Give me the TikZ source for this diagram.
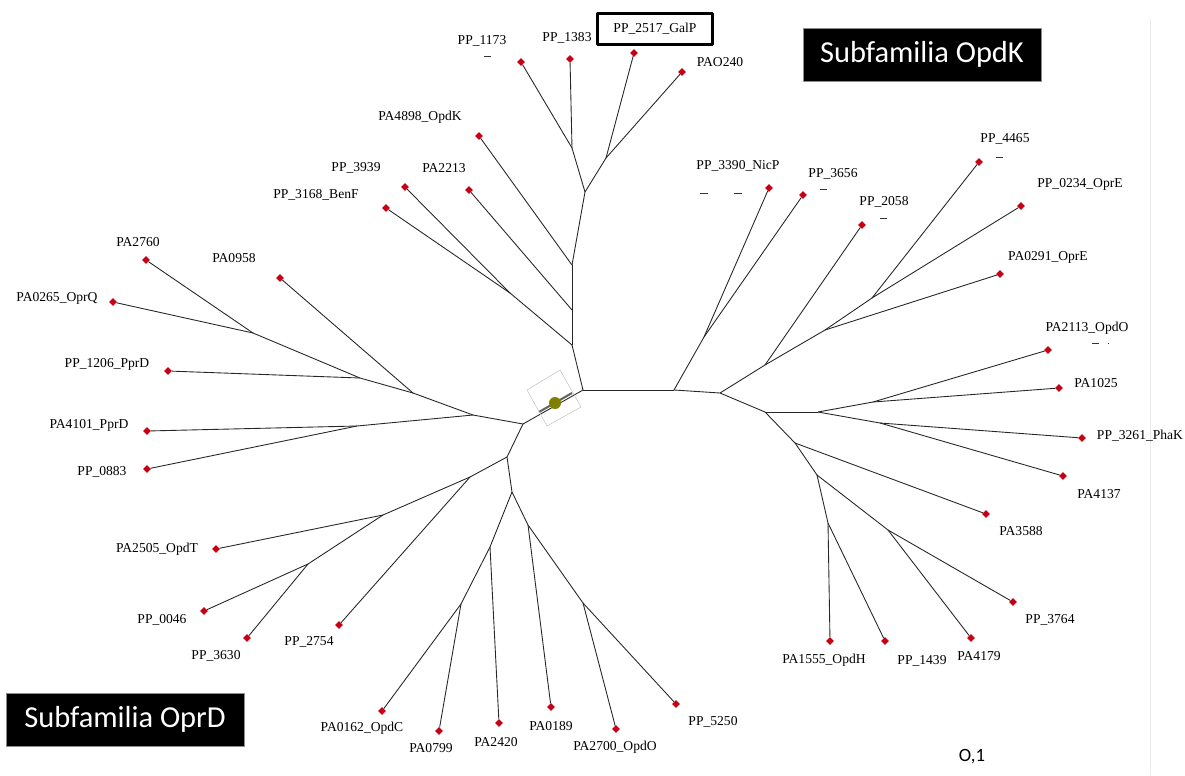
\documentclass[tikz,border=0pt]{standalone}
\usepackage{fontspec}
\setmainfont{Liberation Serif}
\newfontfamily\boxfont{Carlito}
\usetikzlibrary{shapes.geometric}

\definecolor{tipred}{RGB}{200,0,20}
\definecolor{rootgreen}{RGB}{128,128,0}

\begin{document}
\begin{tikzpicture}[x=0.03cm,y=-0.03cm,
  every path/.style={line join=round},
  branch/.style={draw=black!85,line width=0.75pt},
  tip/.style={diamond,fill=tipred,inner sep=0pt,minimum size=0.24cm},
  lab/.style={inner sep=0pt,font=\fontsize{11.6}{13}\selectfont},
  family/.style={fill=black,draw=black!45,line width=0.8pt,text=white,
    minimum width=7.14cm,minimum height=1.59cm,inner sep=0pt,
    font=\boxfont\fontsize{26}{28}\selectfont},
  smudge/.style={draw=black!80,line width=0.8pt}]
\useasboundingbox (0,0) rectangle (1185,775);
\draw[black!8,line width=0.5pt] (1150,19) -- (1150,775);

% inner nodes of the tree
\coordinate (r)  at (583,390);
\coordinate (l)  at (523,424);
\coordinate (a)  at (572,345);
\coordinate (b)  at (510,293);
\coordinate (c)  at (572,310);
\coordinate (d)  at (572,265);
\coordinate (e)  at (585,192);
\coordinate (f)  at (572,148);
\coordinate (g)  at (606,158);
\coordinate (h)  at (674,390);
\coordinate (i)  at (704,337);
\coordinate (j)  at (720,393);
\coordinate (k)  at (765,365);
\coordinate (m)  at (825,330);
\coordinate (n)  at (872,298);
\coordinate (o)  at (765,412);
\coordinate (p)  at (818,412);
\coordinate (q)  at (873,402);
\coordinate (s)  at (880,423);
\coordinate (u)  at (795,443);
\coordinate (v)  at (817,475);
\coordinate (w)  at (828,523);
\coordinate (x)  at (888,530);
\coordinate (v1) at (473,415);
\coordinate (w1) at (413,393);
\coordinate (x1) at (360,378);
\coordinate (y1) at (253,333);
\coordinate (u1) at (357,426);
\coordinate (z)  at (507,457);
\coordinate (aa) at (470,477);
\coordinate (cc) at (383,515);
\coordinate (dd) at (308,564);
\coordinate (bb) at (512,492);
\coordinate (ee) at (490,547);
\coordinate (gg) at (461,604);
\coordinate (ff) at (528,525);
\coordinate (hh) at (583,603);

% leaves
\node[tip] (pp1173) at (521,62)  {};
\node[tip] (pp1383) at (570,59)  {};
\node[tip] (pp2517) at (634,53)  {};
\node[tip] (pao240) at (682,72)  {};
\node[tip] (pa4898) at (479,136) {};
\node[tip] (pp3939) at (405,187) {};
\node[tip] (pa2213) at (469,190) {};
\node[tip] (pp3168) at (386,208) {};
\node[tip] (pp3390) at (769,188) {};
\node[tip] (pp3656) at (803,195) {};
\node[tip] (pp2058) at (862,225) {};
\node[tip] (pp4465) at (979,162) {};
\node[tip] (pp0234) at (1021,206) {};
\node[tip] (pa0291) at (1000,274) {};
\node[tip] (pa2113) at (1048,350) {};
\node[tip] (pa1025) at (1059,388) {};
\node[tip] (pp3261) at (1082,438) {};
\node[tip] (pa4137) at (1063,476) {};
\node[tip] (pa3588) at (986,514) {};
\node[tip] (pp3764) at (1013,602) {};
\node[tip] (pa4179) at (971,638) {};
\node[tip] (pp1439) at (885,641) {};
\node[tip] (pa1555) at (830,641) {};
\node[tip] (pp5250) at (676,704) {};
\node[tip] (pa2700) at (616,729) {};
\node[tip] (pa0189) at (551,707) {};
\node[tip] (pa2420) at (499,723) {};
\node[tip] (pa0799) at (439,731) {};
\node[tip] (pa0162) at (382,711) {};
\node[tip] (pp2754) at (339,625) {};
\node[tip] (pp3630) at (247,638) {};
\node[tip] (pp0046) at (204,611) {};
\node[tip] (pa2505) at (216,549) {};
\node[tip] (pp0883) at (147,469) {};
\node[tip] (pa4101) at (147,431) {};
\node[tip] (pp1206) at (168,371) {};
\node[tip] (pa0265) at (113,302) {};
\node[tip] (pa2760) at (146,260) {};
\node[tip] (pa0958) at (280,278) {};

% labels
\node[lab] (t-pp1173) at (482,41)  {PP\_1173};
\node[lab] (t-pp1383) at (567,38)  {PP\_1383};
\node[lab,draw,line width=2pt,minimum width=3.45cm,minimum height=0.93cm]
           (t-pp2517) at (655,29)  {PP\_2517\_GalP};
\node[lab] (t-pao240) at (720,62)  {PAO240};
\node[lab] (t-pa4898) at (420,117) {PA4898\_OpdK};
\node[lab] (t-pp3939) at (356,168) {PP\_3939};
\node[lab] (t-pa2213) at (444,168) {PA2213};
\node[lab] (t-pp3168) at (316,195) {PP\_3168\_BenF};
\node[lab] (t-pp3390) at (738,166) {PP\_3390\_NicP};
\node[lab] (t-pp3656) at (833,174) {PP\_3656};
\node[lab] (t-pp2058) at (884,202) {PP\_2058};
\node[lab] (t-pp4465) at (1005,139) {PP\_4465};
\node[lab] (t-pp0234) at (1080,184) {PP\_0234\_OprE};
\node[lab] (t-pa0291) at (1048,257) {PA0291\_OprE};
\node[lab] (t-pa2113) at (1087,328) {PA2113\_OpdO};
\node[lab] (t-pa1025) at (1096,383) {PA1025};
\node[lab] (t-pp3261) at (1140,436) {PP\_3261\_PhaK};
\node[lab] (t-pa4137) at (1099,494) {PA4137};
\node[lab] (t-pa3588) at (1021,531) {PA3588};
\node[lab] (t-pp3764) at (1050,620) {PP\_3764};
\node[lab] (t-pa4179) at (979,656) {PA4179};
\node[lab] (t-pp1439) at (922,661) {PP\_1439};
\node[lab] (t-pa1555) at (824,660) {PA1555\_OpdH};
\node[lab] (t-pp5250) at (713,722) {PP\_5250};
\node[lab] (t-pa2700) at (615,747) {PA2700\_OpdO};
\node[lab] (t-pa0189) at (551,726) {PA0189};
\node[lab] (t-pa2420) at (496,742) {PA2420};
\node[lab] (t-pa0799) at (431,748) {PA0799};
\node[lab] (t-pa0162) at (362,728) {PA0162\_OpdC};
\node[lab] (t-pp2754) at (309,642) {PP\_2754};
\node[lab] (t-pp3630) at (216,656) {PP\_3630};
\node[lab] (t-pp0046) at (162,620) {PP\_0046};
\node[lab] (t-pa2505) at (157,549) {PA2505\_OpdT};
\node[lab] (t-pp0883) at (102,472) {PP\_0883};
\node[lab] (t-pa4101) at (89,425)  {PA4101\_PprD};
\node[lab] (t-pp1206) at (107,364) {PP\_1206\_PprD};
\node[lab] (t-pa0265) at (57,298)  {PA0265\_OprQ};
\node[lab] (t-pa2760) at (138,242) {PA2760};
\node[lab] (t-pa0958) at (234,258) {PA0958};

% stray marks under some labels
\draw[smudge] (484,56) -- (491,56);
\draw[smudge] (700,193) -- (708,193);
\draw[smudge] (734,193) -- (742,193);
\draw[smudge] (820,189) -- (827,189);
\draw[smudge] (880,218) -- (887,218);
\draw[smudge] (996,157) -- (1003,157);
\draw[smudge] (1092,343) -- (1099,343);
\draw[smudge] (1108,343) -- (1109,343);

% upper clade
\draw[branch] (r) -- (a);
\draw[branch] (a) -- (b);
\draw[branch] (b) -- (pp3168);
\draw[branch] (b) -- (pp3939);
\draw[branch] (a) -- (c);
\draw[branch] (c) -- (pa2213);
\draw[branch] (c) -- (d);
\draw[branch] (d) -- (pa4898);
\draw[branch] (d) -- (e);
\draw[branch] (e) -- (f);
\draw[branch] (f) -- (pp1173);
\draw[branch] (f) -- (pp1383);
\draw[branch] (e) -- (g);
\draw[branch] (g) -- (pp2517);
\draw[branch] (g) -- (pao240);

% right clade
\draw[branch] (r) -- (h);
\draw[branch] (h) -- (i);
\draw[branch] (i) -- (pp3390);
\draw[branch] (i) -- (pp3656);
\draw[branch] (h) -- (j);
\draw[branch] (j) -- (k);
\draw[branch] (k) -- (pp2058);
\draw[branch] (k) -- (m);
\draw[branch] (m) -- (pa0291);
\draw[branch] (m) -- (n);
\draw[branch] (n) -- (pp4465);
\draw[branch] (n) -- (pp0234);
\draw[branch] (j) -- (o);
\draw[branch] (o) -- (p);
\draw[branch] (p) -- (q);
\draw[branch] (q) -- (pa2113);
\draw[branch] (q) -- (pa1025);
\draw[branch] (p) -- (s);
\draw[branch] (s) -- (pp3261);
\draw[branch] (s) -- (pa4137);
\draw[branch] (o) -- (u);
\draw[branch] (u) -- (pa3588);
\draw[branch] (u) -- (v);
\draw[branch] (v) -- (w);
\draw[branch] (w) -- (pa1555);
\draw[branch] (w) -- (pp1439);
\draw[branch] (v) -- (x);
\draw[branch] (x) -- (pa4179);
\draw[branch] (x) -- (pp3764);

% left clade
\draw[branch] (l) -- (v1);
\draw[branch] (v1) -- (w1);
\draw[branch] (w1) -- (pa0958);
\draw[branch] (w1) -- (x1);
\draw[branch] (x1) -- (pp1206);
\draw[branch] (x1) -- (y1);
\draw[branch] (y1) -- (pa2760);
\draw[branch] (y1) -- (pa0265);
\draw[branch] (v1) -- (u1);
\draw[branch] (u1) -- (pa4101);
\draw[branch] (u1) -- (pp0883);

% lower clade
\draw[branch] (l) -- (z);
\draw[branch] (z) -- (aa);
\draw[branch] (aa) -- (pp2754);
\draw[branch] (aa) -- (cc);
\draw[branch] (cc) -- (pa2505);
\draw[branch] (cc) -- (dd);
\draw[branch] (dd) -- (pp0046);
\draw[branch] (dd) -- (pp3630);
\draw[branch] (z) -- (bb);
\draw[branch] (bb) -- (ee);
\draw[branch] (ee) -- (pa2420);
\draw[branch] (ee) -- (gg);
\draw[branch] (gg) -- (pa0162);
\draw[branch] (gg) -- (pa0799);
\draw[branch] (bb) -- (ff);
\draw[branch] (ff) -- (pa0189);
\draw[branch] (ff) -- (hh);
\draw[branch] (hh) -- (pa2700);
\draw[branch] (hh) -- (pp5250);

% root marker
\draw[branch] (l) -- (r);
\coordinate (rt1) at (539,412);
\coordinate (rt2) at (572,393);
\draw[black!60,line width=1.8pt] (rt1) -- (rt2);
\draw[black!25,line width=0.4pt] (527,390) -- (560,370) -- (581,407) -- (547,426) -- cycle;
\node[circle,fill=rootgreen,inner sep=0pt,minimum size=0.36cm] (root) at (555,403) {};

% subfamily tags and scale
\node[family] (opdk) at (922,54.5)  {Subfamilia OpdK};
\node[family] (oprd) at (125,719.5) {Subfamilia OprD};
\node[font=\boxfont\fontsize{16}{18}\selectfont,inner sep=0pt] (scale) at (972,757) {O,1};
\end{tikzpicture}
\end{document}
